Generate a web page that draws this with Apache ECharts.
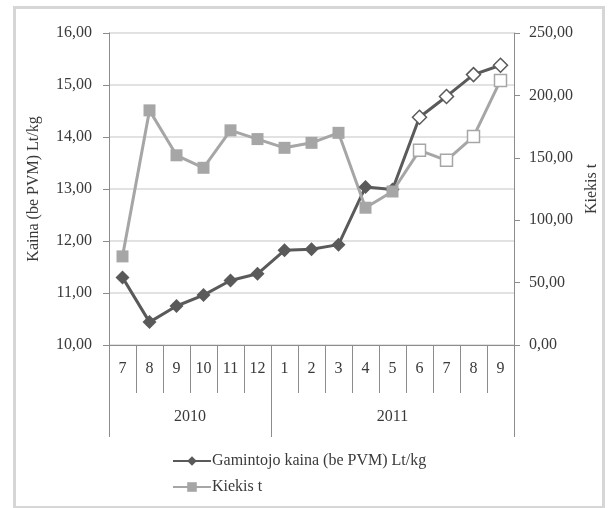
<!DOCTYPE html>
<html><head><meta charset="utf-8">
<script src="https://cdn.jsdelivr.net/npm/echarts@6/dist/echarts.min.js"></script>
<style>html,body{margin:0;padding:0;background:#fff}#c{width:614px;height:508px}</style>
</head><body><div id="c"></div>
<script>
const months = ['7','8','9','10','11','12','1','2','3','4','5','6','7','8','9'];
const years = ['2010','2010','2010','2010','2010','2010','2011','2011','2011','2011','2011','2011','2011','2011','2011'];
const priceName = 'Gamintojo kaina (be PVM) Lt/kg';
const qtyName = 'Kiekis t';
const price = [11.30, 10.44, 10.75, 10.96, 11.24, 11.37, 11.82, 11.84, 11.93, 13.04, 12.99, 14.38, 14.78, 15.20, 15.38];
const qty = [71, 188, 152, 142, 172, 165, 158, 162, 170, 110, 123, 156, 148, 167, 212];
const hollowFrom = 11;
const leftTicks = {min: 10, max: 16, interval: 1};
const rightTicks = {min: 0, max: 250, interval: 50};

const FONT = 'Liberation Serif';
const FS = 16;
const TXT = '#3a3a3a';
const AX = '#8c8c8c';
const fmt = v => v.toFixed(2).replace('.', ',');

function styled(arr, color) {
  return arr.map((v, i) => i >= hollowFrom
    ? {value: v, itemStyle: {color: '#fff', borderColor: color, borderWidth: 1.5}}
    : v);
}
const yearStart = years.map((y, i) => i === 0 || years[i - 1] !== y);
const yearCount = {};
years.forEach(y => yearCount[y] = (yearCount[y] || 0) + 1);
const yearLabelIdx = {};
years.forEach((y, i) => { if (yearStart[i]) yearLabelIdx[Math.floor(i + (yearCount[y] - 1) / 2)] = {y, half: (yearCount[y] % 2 === 0)}; });

const chart = echarts.init(document.getElementById('c'));
chart.setOption({
  animation: false,
  textStyle: {fontFamily: FONT},
  graphic: [{type: 'rect', left: 12, top: 5, shape: {width: 589, height: 500}, style: {fill: 'none', stroke: '#d6d6d6', lineWidth: 3}}],
  grid: {left: 109, right: 100, top: 33, bottom: 163},
  legend: {
    orient: 'vertical', left: 167, top: 448, itemWidth: 38, itemHeight: 12, itemGap: 10,
    textStyle: {fontFamily: FONT, fontSize: FS, color: TXT, padding: [0, 0, 0, -4]},
    data: [priceName, qtyName]
  },
  xAxis: [{
    type: 'category', data: months, position: 'bottom',
    axisLine: {show: true, lineStyle: {color: AX, width: 1}},
    axisTick: {show: true, length: 48, interval: 0, lineStyle: {color: AX, width: 1}},
    axisLabel: {interval: 0, margin: 16, fontFamily: FONT, fontSize: FS, color: TXT}
  }, {
    type: 'category', data: years, position: 'bottom', offset: 0,
    axisLine: {show: false},
    axisTick: {show: true, length: 92, interval: i => yearStart[i], lineStyle: {color: AX, width: 1}},
    axisLabel: {
      margin: 64, fontFamily: FONT, fontSize: FS, color: TXT,
      interval: i => yearLabelIdx[i] !== undefined,
      formatter: (v, i) => yearLabelIdx[i].half ? '{h|' + v + '}' : v,
      rich: {h: {fontFamily: FONT, fontSize: FS, color: TXT, padding: [0, 0, 0, 27]}}
    }
  }, {
    type: 'category', data: years, position: 'bottom', offset: 0, inverse: true,
    axisLine: {show: false},
    axisTick: {show: true, length: 92, interval: i => i === 0, lineStyle: {color: AX, width: 1}},
    axisLabel: {show: false}
  }],
  yAxis: [{
    type: 'value', position: 'left', ...leftTicks,
    name: 'Kaina (be PVM) Lt/kg', nameLocation: 'middle', nameGap: 67, nameRotate: 90,
    nameTextStyle: {fontFamily: FONT, fontSize: FS, color: TXT},
    axisLine: {show: true, lineStyle: {color: AX}},
    axisTick: {show: true, length: 6, lineStyle: {color: AX}},
    axisLabel: {margin: 17, formatter: fmt, fontFamily: FONT, fontSize: FS, color: TXT},
    splitLine: {lineStyle: {color: '#d9d9d9', width: 1.5}}
  }, {
    type: 'value', position: 'right', ...rightTicks,
    name: 'Kiekis t', nameLocation: 'middle', nameGap: 67, nameRotate: 90,
    nameTextStyle: {fontFamily: FONT, fontSize: FS, color: TXT},
    axisLine: {show: true, lineStyle: {color: AX}},
    axisTick: {show: true, length: 6, lineStyle: {color: AX}},
    axisLabel: {margin: 15, formatter: fmt, fontFamily: FONT, fontSize: FS, color: TXT},
    splitLine: {show: false}
  }],
  series: [{
    name: priceName, type: 'line', xAxisIndex: 0, yAxisIndex: 0,
    data: styled(price, '#5a5a5a'),
    symbol: 'diamond', symbolSize: 14, showAllSymbol: true,
    lineStyle: {color: '#5a5a5a', width: 3},
    itemStyle: {color: '#5a5a5a'}
  }, {
    name: qtyName, type: 'line', xAxisIndex: 0, yAxisIndex: 1,
    data: styled(qty, '#a6a6a6'),
    symbol: 'rect', symbolSize: 12, showAllSymbol: true,
    lineStyle: {color: '#a6a6a6', width: 3},
    itemStyle: {color: '#a6a6a6'}
  }]
});
</script></body></html>
